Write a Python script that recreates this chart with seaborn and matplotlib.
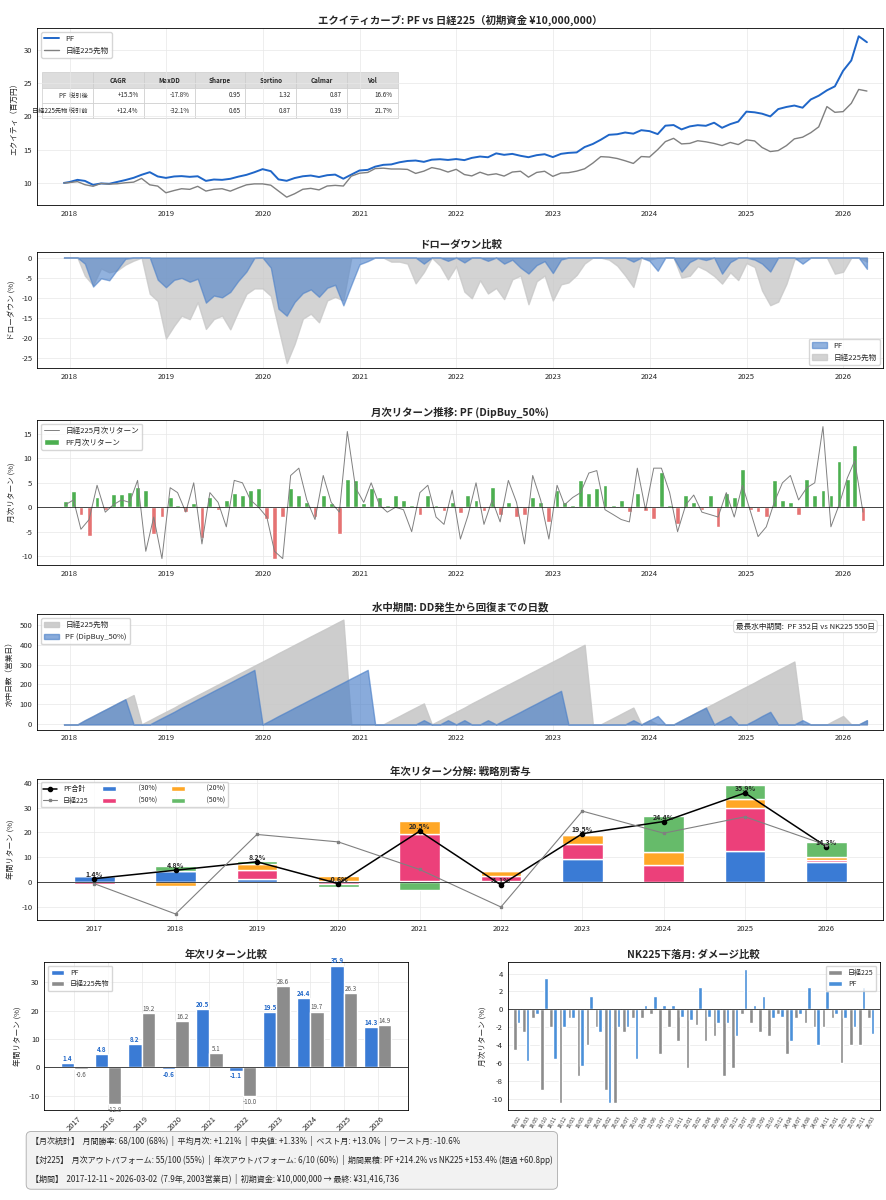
import numpy as np
import pandas as pd
import matplotlib
matplotlib.use("Agg")
import matplotlib.pyplot as plt
import seaborn as sns

sns.set_theme(style="whitegrid", rc={'grid.color': '#e8e8e8', 'grid.linewidth': 0.5})
plt.rcParams['font.family'] = ['Noto Sans CJK JP', 'DejaVu Sans']
plt.rcParams['axes.unicode_minus'] = False

# monthly returns (%) Dec-2017 .. Mar-2026
pf_ret = [1.3,
          3.3, -1.5, -5.8, 2.2, -0.5, 2.8, 2.8, 3.2, 4.2, 3.5, -5.5, -2.0,
          2.0, 0.5, -1.0, 0.8, -6.3, 2.0, -0.5, 1.5, 3.0, 2.5, 3.5, 4.0,
          -2.5, -10.5, -2.0, 4.0, 2.5, 1.0, -2.0, 2.5, 0.8, -5.5, 5.8, 5.5,
          0.8, 4.0, 2.2, 0.5, 2.5, 1.5, 0.5, -1.5, 2.5, 0.5, -0.8, 1.0,
          -1.2, 2.5, 1.5, -0.8, 4.2, -1.5, 1.0, -2.0, -1.5, 2.2, 1.0, -3.0,
          3.5, 1.0, 0.5, 5.5, 3.0, 4.0, 4.5, 0.5, 1.5, -1.0, 3.0, -0.8,
          -2.5, 7.3, 0.5, -3.5, 2.5, 1.0, -0.5, 2.5, -4.0, 3.0, 2.0, 7.8,
          -0.5, -1.0, -2.0, 5.5, 1.5, 1.0, -1.5, 5.8, 2.5, 3.5, 2.5, 9.5,
          5.8, 12.8, -2.8]
nk_ret = [0.5,
          1.5, -4.5, -2.5, 4.5, -1.0, 0.5, 1.5, 1.0, 5.5, -9.0, -2.0, -10.5,
          4.0, 3.0, -1.0, 5.0, -7.5, 3.0, 1.0, -4.0, 5.5, 5.0, 1.5, 0.0,
          -2.0, -9.0, -10.5, 6.5, 8.0, 1.5, -2.5, 6.5, 1.0, -1.0, 15.5, 4.0,
          1.0, 5.0, 0.5, -1.0, 0.0, -0.5, -5.0, 3.0, 4.5, -2.0, -3.5, 3.5,
          -6.5, -1.8, 5.0, -3.5, 1.5, -3.0, 5.5, 1.0, -7.5, 6.5, 1.5, -6.5,
          4.5, 0.5, 2.0, 3.0, 7.0, 7.5, -0.5, -1.5, -2.5, -3.0, 8.0, -0.5,
          8.0, 8.0, 3.0, -5.0, 0.5, 2.5, -1.0, -1.5, -2.0, 3.0, -2.0, 4.5,
          -1.0, -6.0, -4.0, 1.0, 5.0, 6.5, 1.5, 4.0, 5.0, 16.5, -4.0, 0.5,
          6.0, 9.5, -1.0]

years = [2017, 2018, 2019, 2020, 2021, 2022, 2023, 2024, 2025, 2026]
pf_year = [1.4, 4.8, 8.2, -0.6, 20.5, -1.1, 19.5, 24.4, 35.9, 14.3]
nk_year = [-0.6, -12.8, 19.2, 16.2, 5.1, -10.0, 28.6, 19.7, 26.3, 14.9]
comp_blue = [2.3, 4.5, 1.2, 0.5, 0.3, 0.3, 9.5, 0.0, 12.5, 8.3]
comp_pink = [-0.7, 0.0, 3.8, -0.8, 19.0, 2.0, 6.0, 6.8, 17.5, 0.5]
comp_orange = [0.0, -1.5, 2.3, 1.8, 5.5, 2.2, 3.5, 5.3, 3.5, 1.5]
comp_green = [0.0, 2.0, 1.2, -1.2, -3.0, 0.0, 0.5, 14.5, 5.5, 6.0]

table_cols = ['CAGR', 'MaxDD', 'Sharpe', 'Sortino', 'Calmar', 'Vol']
table_rows = ['PF  税引後', '日経225先物 税引前']
table_vals = [['+15.5%', '-17.8%', '0.95', '1.32', '0.87', '16.6%'],
              ['+12.4%', '-32.1%', '0.65', '0.87', '0.39', '21.7%']]

BLUE = '#1f66c8'
dates = pd.date_range('2017-12-31', periods=len(pf_ret), freq='ME')
d_all = pd.DatetimeIndex([pd.Timestamp('2017-12-11')]).append(dates)
pf_eq = 10 * np.concatenate([[1], np.cumprod(1 + np.array(pf_ret) / 100)])
nk_eq = 10 * np.concatenate([[1], np.cumprod(1 + np.array(nk_ret) / 100)])
pf_dd = (pf_eq / np.maximum.accumulate(pf_eq) - 1) * 100
nk_dd = (nk_eq / np.maximum.accumulate(nk_eq) - 1) * 100

def underwater(dd):
    out, c = [], 0
    for v in dd:
        c = c + 21 if v < -0.01 else 0
        out.append(c)
    return np.array(out)

fig = plt.figure(figsize=(8.86, 12), dpi=100)
tfs = 7.5
lfs = 5.5
xl = (pd.Timestamp('2017-09-01'), pd.Timestamp('2026-06-01'))
L, W = 0.042, 0.955

# 1 equity
ax1 = fig.add_axes([L, 0.829, W, 0.1475])
sns.lineplot(x=d_all, y=pf_eq, ax=ax1, color=BLUE, lw=1.4, label='PF')
sns.lineplot(x=d_all, y=nk_eq, ax=ax1, color='gray', lw=1.0, label='日経225先物')
ax1.set_title('エクイティカーブ: PF vs 日経225（初期資金 ¥10,000,000）', fontsize=tfs, weight='bold', pad=3)
ax1.set_ylabel('エクイティ（百万円）', fontsize=lfs)
ax1.legend(loc='upper left', fontsize=5.5)
cells = [[r] + v for r, v in zip(table_rows, table_vals)]
tb = ax1.table(cellText=cells, colLabels=[''] + table_cols,
               bbox=[0.006, 0.49, 0.42, 0.26], cellLoc='right')
tb.auto_set_font_size(False)
tb.set_fontsize(4.5)
for (r, c), cell in tb.get_celld().items():
    cell.set_edgecolor('#cccccc')
    cell.set_linewidth(0.5)
    if r == 0:
        cell.set_facecolor('#dddddd')
        cell.get_text().set_weight('bold')
        cell.get_text().set_ha('center')

# 2 drawdown
ax2 = fig.add_axes([L, 0.693, W, 0.0967])
ax2.fill_between(d_all, nk_dd, 0, color='#c8c8c8', alpha=0.8, label='日経225先物')
ax2.fill_between(d_all, pf_dd, 0, color='#4a7fc8', alpha=0.6, label='PF')
ax2.set_title('ドローダウン比較', fontsize=tfs, weight='bold', pad=3)
ax2.set_ylabel('ドローダウン (%)', fontsize=lfs)
h, l = ax2.get_legend_handles_labels()
ax2.legend(h[::-1], l[::-1], loc='lower right', fontsize=5.5)

# 3 monthly
ax3 = fig.add_axes([L, 0.529, W, 0.121])
cols = ['#4caf50' if v >= 0 else '#e57373' for v in pf_ret]
ax3.bar(dates - pd.Timedelta(days=15), pf_ret, width=18, color=cols, label='PF月次リターン')
ax3.plot(dates - pd.Timedelta(days=15), nk_ret, color='gray', lw=0.7, label='日経225月次リターン')
ax3.axhline(0, color='black', lw=0.5)
ax3.set_title('月次リターン推移: PF (DipBuy_50%)', fontsize=tfs, weight='bold', pad=3)
ax3.set_ylabel('月次リターン (%)', fontsize=lfs)
ax3.legend(loc='upper left', fontsize=5.5)

# 4 underwater
ax4 = fig.add_axes([L, 0.392, W, 0.096])
ax4.fill_between(d_all, underwater(nk_dd), 0, color='#c8c8c8', alpha=0.9, label='日経225先物')
ax4.fill_between(d_all, underwater(pf_dd), 0, color='#4a7fc8', alpha=0.65, label='PF (DipBuy_50%)')
ax4.set_title('水中期間: DD発生から回復までの日数', fontsize=tfs, weight='bold', pad=3)
ax4.set_ylabel('水中日数（営業日）', fontsize=lfs)
ax4.legend(loc='upper left', fontsize=5.5)
ax4.text(0.99, 0.93, '最長水中期間:  PF 352日 vs NK225 550日', transform=ax4.transAxes,
         ha='right', va='top', fontsize=5.5,
         bbox=dict(boxstyle='round', fc='white', ec='#cccccc', lw=0.5))

for ax in (ax1, ax2, ax3, ax4):
    ax.set_xlim(*xl)
    ax.set_xlabel('')

# 5 annual decomposition
ax5 = fig.add_axes([L, 0.233, W, 0.118])
x = np.arange(len(years))
pos = np.zeros(len(years)); neg = np.zeros(len(years))
for vals, c, lab in [(comp_blue, '#3a7bd5', '(30%)'), (comp_pink, '#ec407a', '(50%)'),
                     (comp_orange, '#ffa726', '(20%)'), (comp_green, '#66bb6a', '(50%)')]:
    v = np.array(vals)
    bottom = np.where(v >= 0, pos, neg)
    ax5.bar(x, v, bottom=bottom, width=0.5, color=c, label='           ' + lab)
    pos += np.where(v >= 0, v, 0); neg += np.where(v < 0, v, 0)
ax5.plot(x, pf_year, color='black', marker='o', ms=3, lw=1.1, label='PF合計')
ax5.plot(x, nk_year, color='gray', marker='s', ms=2, lw=0.8, label='日経225')
for xi, v in zip(x, pf_year):
    ax5.text(xi, v + 0.8, f'{v:.1f}%', ha='center', fontsize=5, weight='bold')
ax5.axhline(0, color='black', lw=0.5)
ax5.set_xticks(x); ax5.set_xticklabels(years)
ax5.set_xlim(-0.7, 9.7)
ax5.set_title('年次リターン分解: 戦略別寄与', fontsize=tfs, weight='bold', pad=3)
ax5.set_ylabel('年間リターン (%)', fontsize=lfs)
h, l = ax5.get_legend_handles_labels()
ax5.legend(h, l, loc='upper left', ncol=3, fontsize=5)

# 6 annual comparison
ax6 = fig.add_axes([0.05, 0.075, 0.41, 0.123])
ax6.bar(x - 0.2, pf_year, width=0.4, color='#3a7bd5', label='PF')
ax6.bar(x + 0.2, nk_year, width=0.4, color='#8c8c8c', label='日経225先物')
for xi, a, b in zip(x, pf_year, nk_year):
    ax6.text(xi - 0.2, a + (0.8 if a >= 0 else -2.8), f'{a:.1f}', ha='center', fontsize=4.5, color=BLUE, weight='bold')
    ax6.text(xi + 0.2, b + (0.8 if b >= 0 else -2.8), f'{b:.1f}', ha='center', fontsize=4.5, color='#555555')
ax6.axhline(0, color='black', lw=0.5)
ax6.set_xticks(x); ax6.set_xticklabels(years, rotation=45)
ax6.set_ylim(-15, 37)
ax6.set_title('年次リターン比較', fontsize=tfs, weight='bold', pad=3)
ax6.set_ylabel('年間リターン (%)', fontsize=lfs)
ax6.legend(loc='upper left', fontsize=5)

# 7 NK down months
ax7 = fig.add_axes([0.573, 0.075, 0.42, 0.123])
down = [i for i, v in enumerate(nk_ret) if v < 0]
xd = np.arange(len(down))
ax7.bar(xd - 0.2, [nk_ret[i] for i in down], width=0.4, color='#8c8c8c', label='日経225')
ax7.bar(xd + 0.2, [pf_ret[i] for i in down], width=0.4, color='#4a90d9', label='PF')
ax7.axhline(0, color='black', lw=0.5)
ax7.set_xticks(xd)
ax7.set_xticklabels([dates[i].strftime('%y/%m') for i in down], rotation=60)
ax7.set_xlim(-1, len(down))
ax7.grid(axis='x', visible=False)
ax7.set_title('NK225下落月: ダメージ比較', fontsize=tfs, weight='bold', pad=3)
ax7.set_ylabel('月次リターン (%)', fontsize=lfs)
ax7.legend(loc='upper right', fontsize=5)

for ax in (ax1, ax2, ax3, ax4, ax5, ax6, ax7):
    ax.tick_params(labelsize=5.5, length=2, pad=1.5)
    for s in ax.spines.values():
        s.set_edgecolor('black'); s.set_linewidth(0.6)
ax7.tick_params(axis='x', labelsize=3.5)

txt = ('【月次統計】  月間勝率: 68/100 (68%)  |  平均月次: +1.21%  |  中央値: +1.33%  |  ベスト月: +13.0%  |  ワースト月: -10.6%\n\n'
       '【対225】  月次アウトパフォーム: 55/100 (55%)  |  年次アウトパフォーム: 6/10 (60%)  |  期間累積: PF +214.2% vs NK225 +153.4% (超過 +60.8pp)\n\n'
       '【期間】  2017-12-11 ~ 2026-03-02  (7.9年, 2003営業日)  |  初期資金: ¥10,000,000 → 最終: ¥31,416,736')
fig.text(0.035, 0.033, txt, fontsize=5.8, va='center', linespacing=1.0,
         bbox=dict(boxstyle='round,pad=0.6', fc='#f2f2f2', ec='#aaaaaa', lw=0.6))

fig.savefig('out.png', dpi=100)
